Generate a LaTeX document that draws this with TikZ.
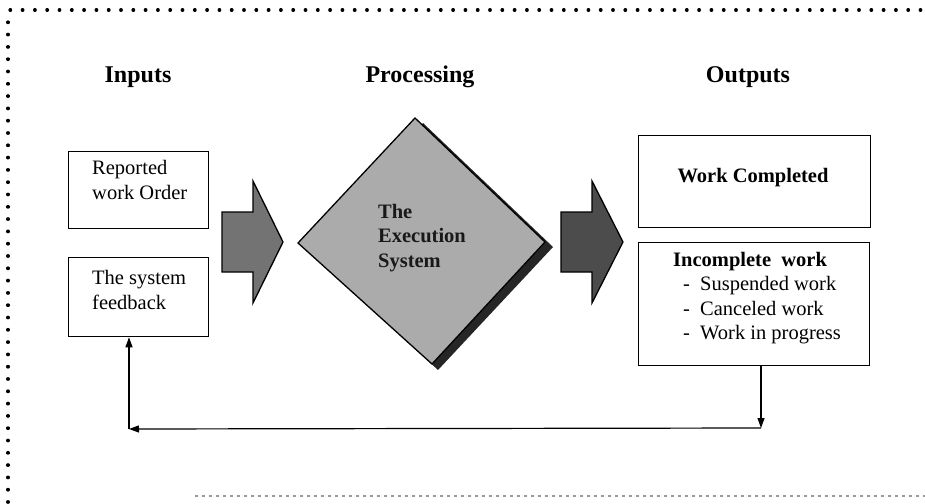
\documentclass[tikz,border=0pt]{standalone}
\usepackage{fontspec}
\setmainfont{Liberation Serif}
\usetikzlibrary{arrows.meta,calc}
\begin{document}
\begin{tikzpicture}[x=1pt,y=-1pt,
  box/.style={draw, line width=1.3pt, inner sep=0pt},
  head/.style={font=\fontsize{24}{28}\selectfont\bfseries, inner sep=0pt},
  body/.style={font=\fontsize{20.5}{24.5}\selectfont, align=left, inner sep=0pt},
  bold/.style={font=\fontsize{20.5}{24.5}\selectfont\bfseries, inner sep=0pt},
  bigarrow/.style={draw=black, line width=1.3pt, line join=miter},
  fb/.style={line width=1.2pt, -{Triangle[length=10pt,width=7pt]}},
  dots/.style={line width=3.2pt, line cap=round, dash pattern=on 0.6pt off 11.7pt}]
\useasboundingbox (0,0) rectangle (925,503);
\fill[white] (0,0) rectangle (925,503);

% frame
\draw[dots] (10,10) -- (925,10);
\draw[dots] (8,22) -- (8,503);
\draw[black!40, line width=1.3pt, dash pattern=on 3pt off 4pt] (195,496) -- (925,496);

% headings
\node[head] (hin) at (138,77) {Inputs};
\node[head] (hproc) at (420,77) {Processing};
\node[head] (hout) at (748,77) {Outputs};

% input boxes
\node[box, minimum width=140pt, minimum height=77pt, anchor=north west] (in1) at (68,151) {};
\node[body, anchor=west] (in1t) at (92,180) {Reported\\work Order};
\node[box, minimum width=140pt, minimum height=79pt, anchor=north west] (in2) at (68,257) {};
\node[body, anchor=west] (in2t) at (92,290) {The system\\feedback};

% output boxes
\node[box, minimum width=232pt, minimum height=92pt, anchor=north west] (out1) at (638,135) {};
\node[bold] (out1t) at (753,178) {Work Completed};
\node[box, minimum width=231pt, minimum height=123pt, anchor=north west] (out2) at (638,242) {};
\node[body, anchor=west] (out2t) at (673,298) {\textbf{Incomplete\ \ work}\\
\makebox[27pt][l]{\hspace{10pt}-}Suspended work\\
\makebox[27pt][l]{\hspace{10pt}-}Canceled work\\
\makebox[27pt][l]{\hspace{10pt}-}Work in progress};

% big arrows
\draw[bigarrow, fill=black!55] (222,212) -- (253,212) -- (253,181) -- (283,242) -- (253,303) -- (253,272) -- (222,272) -- cycle;
\draw[bigarrow, fill=black!70] (561,212) -- (592,212) -- (592,181) -- (623,242) -- (592,303) -- (592,272) -- (561,272) -- cycle;

% diamond with shadow
\coordinate (dt) at (415,118);
\coordinate (dr) at (545,242);
\coordinate (db) at (432,364);
\coordinate (dl) at (298,243);
\fill[black!85] ($(dt)+(8,5)$) -- ($(dr)+(8,5)$) -- ($(db)+(6,6)$) -- ($(dl)+(8,5)$) -- cycle;
\draw[line width=1.3pt, fill=black!33, line join=miter] (dt) -- (dr) -- (db) -- (dl) -- cycle;
\node[bold, align=left, text=black!90] (dtext) at (422,238) {The\\Execution\\System};

% feedback loop
\coordinate (c1) at (761,428);
\coordinate (c2) at (129,429);
\draw[fb] (out2.south -| c1) -- (c1);
\draw[fb] (c1) -- (c2);
\draw[fb] (c2) -- (c2 |- in2.south);
\end{tikzpicture}
\end{document}
